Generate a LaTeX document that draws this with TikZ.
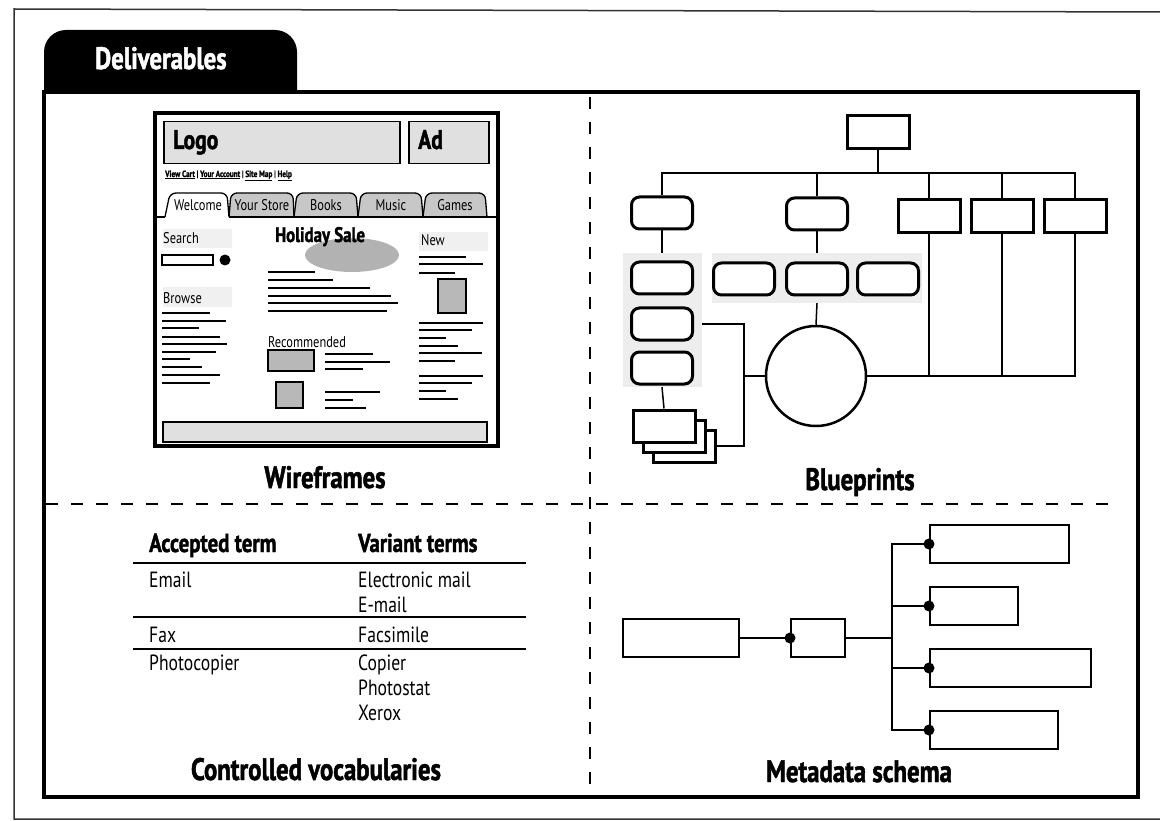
\documentclass[tikz,border=0pt]{standalone}
\usepackage{fontspec}
\setmainfont[FakeStretch=0.8, BoldFeatures={FakeBold=1.5}]{PT Sans}
\usetikzlibrary{positioning}

\begin{document}
\begin{tikzpicture}[x=1pt, y=-1pt,
    every node/.style={inner sep=0pt, font=\fontsize{22}{25}\selectfont},
    titel/.style={font=\bfseries\fontsize{31}{34}\selectfont},
    kopf/.style={font=\bfseries\fontsize{26}{28}\selectfont},
    klein/.style={font=\fontsize{15.5}{18}\selectfont},
    fein/.style={line width=1.3pt},
    raster/.style={fill=black!22},
    trenn/.style={line width=1.8pt, dash pattern=on 12pt off 13pt},
    rbox/.style={draw, fill=white, line width=3pt, rounded corners=8pt, minimum width=61pt, minimum height=32pt},
    pbox/.style={draw, fill=white, line width=3pt, minimum width=62pt, minimum height=33pt},
    mbox/.style={draw, line width=2pt, minimum height=38pt},
    punkt/.style={circle, fill, minimum size=11pt}]
      \useasboundingbox (0,0) rectangle (1160,821);

      % Rahmen und Reiter
      \draw[line width=1.5pt, black!80] (1160,12) -- (14,9) -- (14,819) -- (1160,819);
      \fill (44,94) -- (44,52) arc[start angle=180, end angle=270, radius=22]
            -- (275,30) arc[start angle=270, end angle=360, radius=22] -- (297,94) -- cycle;
      \node[titel, text=white, anchor=base west] (reiter) at (95,69) {Deliverables};
      \draw[line width=4pt] (44,92) rectangle (1138,797);

      % Trennlinien
      \draw[trenn] (590,97) -- (590,790);
      \draw[trenn] (46,504) -- (1110,504);

      % Wireframe
      \draw[line width=3.5pt] (155,113) rectangle (498,446);
      \node[draw, fill=black!12, line width=1.5pt, minimum width=236pt, minimum height=42pt,
            anchor=north west] (logo) at (163,121) {};
      \node[titel, font=\bfseries\fontsize{27}{30}\selectfont, anchor=base west] (logotext) at (173,149) {Logo};
      \node[draw, fill=black!12, line width=1.5pt, minimum width=80pt, minimum height=42pt,
            anchor=north west] (ad) at (408,121) {};
      \node[font=\bfseries\fontsize{27}{30}\selectfont, anchor=base west] (adtext) at (418,149) {Ad};
      \node[font=\bfseries\fontsize{9}{10}\selectfont, anchor=base west] (links) at (165,177)
            {\underline{View Cart} | \underline{Your Account} | \underline{Site Map} | \underline{Help}};

      % Reiter der Seite
      \draw[fein, raster, rounded corners=6pt] (229,217) -- (231,193) -- (293,193) -- (294,217);
      \draw[fein, raster, rounded corners=6pt] (294,217) -- (297,193) -- (356,193) -- (358,217);
      \draw[fein, raster, rounded corners=6pt] (358,217) -- (361,193) -- (421,193) -- (423,217);
      \draw[fein, raster, rounded corners=6pt] (423,217) -- (426,193) -- (485,193) -- (487,217);
      \draw[fein, fill=white, rounded corners=6pt] (165,217) -- (170,193) -- (227,193) -- (229,217);
      \draw[fein] (155,217) -- (165,217) (229,217) -- (498,217);
      \node[klein, anchor=base] (tab1) at (198,211) {Welcome};
      \node[klein, anchor=base] (tab2) at (262,211) {Your Store};
      \node[klein, anchor=base] (tab3) at (326,211) {Books};
      \node[klein, anchor=base] (tab4) at (391,211) {Music};
      \node[klein, anchor=base] (tab5) at (455,211) {Games};

      % linke Spalte
      \fill[black!6] (163,229) rectangle (232,248) (163,287) rectangle (232,307) (419,232) rectangle (488,251);
      \node[klein, anchor=base west] (search) at (163,244) {Search};
      \draw[fein] (162,255) rectangle (213,265);
      \fill (225,260) circle[radius=5.5];
      \node[klein, anchor=base west] (browse) at (163,303) {Browse};
      \draw[fein] (162,313) -- (210,313) (162,321) -- (226,321) (162,328) -- (199,328)
            (162,337) -- (220,337) (162,344) -- (227,344) (162,352) -- (216,352)
            (162,359) -- (190,359) (162,367) -- (202,367) (162,375) -- (220,375)
            (162,383) -- (210,383);

      % Mitte
      \fill[black!30] (352,255) ellipse[x radius=47, y radius=17];
      \node[font=\bfseries\fontsize{21}{25}\selectfont, anchor=base west] (sale) at (275,242) {Holiday Sale};
      \draw[fein] (268,272) -- (315,272) (268,280) -- (333,280) (268,288) -- (370,288)
            (268,296) -- (391,296) (268,303) -- (398,303) (268,311) -- (387,311);
      \node[klein, anchor=base west] (recommended) at (268,347) {Recommended};
      \draw[fein, fill=black!28] (268,350) rectangle (314,371) (276,382) rectangle (303,408);
      \draw[fein] (325,354) -- (373,354) (325,362) -- (390,362) (325,369) -- (363,369)
            (325,392) -- (380,392) (325,400) -- (353,400) (325,408) -- (366,408);

      % rechte Spalte
      \node[klein, anchor=base west] (new) at (421,246) {New};
      \draw[fein] (419,257) -- (466,257) (419,264) -- (483,264) (419,273) -- (455,273);
      \draw[fein, fill=black!28] (438,279) rectangle (466,313);
      \draw[fein] (419,323) -- (483,323) (419,330) -- (472,330) (419,338) -- (446,338)
            (419,346) -- (458,346) (419,353) -- (482,353) (419,361) -- (455,361)
            (419,376) -- (483,376) (419,383) -- (472,383) (419,391) -- (446,391)
            (419,399) -- (458,399);
      \draw[line width=1.5pt, fill=black!12] (163,422) rectangle (487,442);
      \node[titel, anchor=base] (wireframes) at (325,488) {Wireframes};

      % Blueprint
      \node[pbox] (home) at (878,132) {};
      \node[rbox] (r1) at (662,213) {};
      \node[rbox] (r2) at (817,214) {};
      \node[pbox] (p1) at (929,216) {};
      \node[pbox, right=8pt of p1] (p2) {};
      \node[pbox, right=8pt of p2] (p3) {};
      \node[fill=black!7, minimum width=79pt, minimum height=134pt] (grpL) at (662.5,320) {};
      \node[fill=black!7, minimum width=210pt, minimum height=50pt] (grpM) at (817,278) {};
      \node[rbox] (c1) at (662,278) {};
      \node[rbox, below=11pt of c1] (c2) {};
      \node[rbox, below=9pt of c2] (c3) {};
      \node[rbox] (m2) at (817,279) {};
      \node[rbox, left=9pt of m2] (m1) {};
      \node[rbox, right=7pt of m2] (m3) {};
      \node[circle, draw, line width=2.5pt, minimum size=100pt] (kreis) at (816,376) {};
      \node[pbox, minimum height=32pt] (s3) at (684,446) {};
      \node[pbox, minimum height=32pt] (s2) at (674,436) {};
      \node[pbox, minimum height=32pt] (s1) at (664,426) {};
      \coordinate (bus) at (878,173);
      \coordinate (knoten) at (744,376);

      % Verbindungen
      \draw[line width=1.5pt] (home) -- (bus);
      \draw[line width=1.5pt] (r1.north) |- (bus) -| (p3.north);
      \draw[line width=1.5pt] (r2.north) -- (r2 |- bus);
      \draw[line width=1.5pt] (p1.north) -- (p1 |- bus);
      \draw[line width=1.5pt] (p2.north) -- (p2 |- bus);
      \draw[line width=1.5pt] (r1.south) -- (r1 |- grpL.north);
      \draw[line width=1.5pt] (r2.south) -- (r2 |- grpM.north);
      \draw[line width=1.5pt] (m2 |- grpM.south) -- (kreis.north);
      \draw[line width=1.5pt] (c3 |- grpL.south) -- (s1.north);
      \draw[line width=1.5pt] (grpL.east |- c2) -| (knoten) |- (s3.east);
      \draw[line width=1.5pt] (knoten) -- (kreis.west);
      \draw[line width=1.5pt] (kreis.east) -| (p3.south);
      \draw[line width=1.5pt] (p1.south) -- (p1 |- kreis);
      \draw[line width=1.5pt] (p2.south) -- (p2 |- kreis);
      \node[titel, anchor=base] (blueprints) at (860,490) {Blueprints};

      % Vokabular
      \node[kopf, anchor=base west] (accepted) at (149,552) {Accepted term};
      \node[kopf, anchor=base west] (variant) at (358,552) {Variant terms};
      \draw[line width=1.8pt] (133,563) -- (526,563) (133,617) -- (526,617) (133,649) -- (526,649);
      \node[anchor=base west] (email) at (149,587) {Email};
      \node[anchor=base west] (email1) at (358,587) {Electronic mail};
      \node[anchor=base west] (email2) at (358,612) {E-mail};
      \node[anchor=base west] (fax) at (149,642) {Fax};
      \node[anchor=base west] (fax1) at (358,642) {Facsimile};
      \node[anchor=base west] (copy) at (149,670) {Photocopier};
      \node[anchor=base west] (copy1) at (358,670) {Copier};
      \node[anchor=base west] (copy2) at (358,695) {Photostat};
      \node[anchor=base west] (copy3) at (358,720) {Xerox};
      \node[titel, anchor=base] (vokabular) at (316,780) {Controlled vocabularies};

      % Metadaten
      \node[mbox, minimum width=116pt] (feldA) at (681,638) {};
      \node[mbox, minimum width=54pt, right=50pt of feldA] (feldB) {};
      \node[mbox, minimum width=139pt, anchor=west] (c1m) at (929,544) {};
      \node[mbox, minimum width=88pt, anchor=west] (c2m) at (929,606) {};
      \node[mbox, minimum width=161pt, anchor=west] (c3m) at (929,668) {};
      \node[mbox, minimum width=128pt, anchor=west] (c4m) at (929,730) {};
      \coordinate (mbus) at (892,638);
      \draw[line width=1.5pt] (feldA) -- (feldB);
      \draw[line width=1.5pt] (feldB) -- (mbus);
      \draw[line width=1.5pt] (c1m.west) -| (mbus) |- (c4m.west);
      \draw[line width=1.5pt] (c2m.west) -- (c2m.west -| mbus);
      \draw[line width=1.5pt] (c3m.west) -- (c3m.west -| mbus);
      \node[punkt] (dB) at (feldB.west) {};
      \node[punkt] (d1) at (c1m.west) {};
      \node[punkt] (d2) at (c2m.west) {};
      \node[punkt] (d3) at (c3m.west) {};
      \node[punkt] (d4) at (c4m.west) {};
      \node[titel, anchor=base] (schema) at (859,782) {Metadata schema};
\end{tikzpicture}
\end{document}
